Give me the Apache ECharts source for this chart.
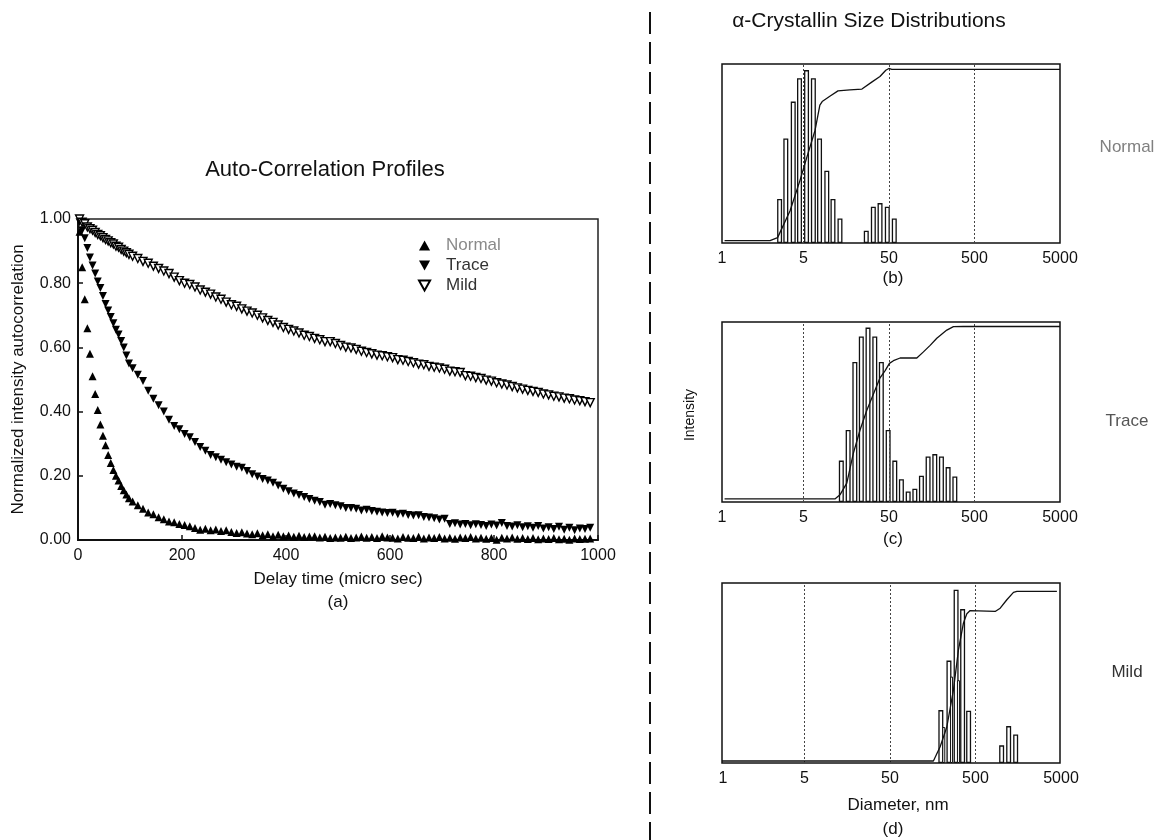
<!DOCTYPE html>
<html>
<head>
<meta charset="utf-8">
<title>Auto-Correlation Profiles / α-Crystallin Size Distributions</title>
<script src="https://cdn.jsdelivr.net/npm/echarts@6/dist/echarts.min.js"></script>
<style>
  html, body { margin: 0; padding: 0; background: #fff; }
  #chart { width: 1157px; height: 840px; }
</style>
</head>
<body>
<div id="chart"></div>
<script>
// ---- (a) auto-correlation profiles ----
const delays = [
  3, 8, 13, 18, 23, 28, 33, 38, 43, 48, 53, 58, 63, 68, 73, 78, 83, 88, 93, 98,
  105, 115, 125, 135, 145, 155, 165, 175, 185, 195,
  205, 215, 225, 235, 245, 255, 265, 275, 285, 295,
  305, 315, 325, 335, 345, 355, 365, 375, 385, 395,
  405, 415, 425, 435, 445, 455, 465, 475, 485, 495,
  505, 515, 525, 535, 545, 555, 565, 575, 585, 595,
  605, 615, 625, 635, 645, 655, 665, 675, 685, 695,
  705, 715, 725, 735, 745, 755, 765, 775, 785, 795,
  805, 815, 825, 835, 845, 855, 865, 875, 885, 895,
  905, 915, 925, 935, 945, 955, 965, 975, 985
]
const normalCorr = [
  0.96, 0.85, 0.75, 0.66, 0.58, 0.51, 0.455, 0.405, 0.36, 0.325, 0.295, 0.265, 0.24, 0.218, 0.2, 0.185, 0.168, 0.155, 0.142, 0.13,
  0.12, 0.108, 0.097, 0.086, 0.08, 0.071, 0.065, 0.058, 0.055, 0.05,
  0.047, 0.043, 0.037, 0.032, 0.035, 0.03, 0.033, 0.028, 0.03, 0.025,
  0.022, 0.024, 0.02, 0.018, 0.021, 0.015, 0.018, 0.012, 0.016, 0.012,
  0.014, 0.01, 0.013, 0.009, 0.011, 0.012, 0.008, 0.01, 0.006, 0.008,
  0.007, 0.01, 0.006, 0.008, 0.011, 0.007, 0.009, 0.006, 0.012, 0.008,
  0.007, 0.005, 0.009, 0.007, 0.006, 0.01, 0.005, 0.008, 0.006, 0.009,
  0.005, 0.007, 0.004, 0.008, 0.006, 0.009, 0.005, 0.007, 0.004, 0.006,
  0.001, 0.007, 0.005, 0.008, 0.004, 0.006, 0.003, 0.006, 0.002, 0.005,
  0.003, 0.006, 0.002, 0.004, 0.001, 0.005, 0.003, 0.004, 0.005
]
const traceCorr = [
  0.99, 0.965, 0.94, 0.91, 0.88, 0.855, 0.83, 0.805, 0.785, 0.76, 0.735, 0.715, 0.695, 0.675, 0.655, 0.64, 0.62, 0.6, 0.575, 0.55,
  0.535, 0.515, 0.495, 0.465, 0.44, 0.42, 0.4, 0.375, 0.355, 0.345,
  0.33, 0.32, 0.305, 0.29, 0.278, 0.265, 0.258, 0.25, 0.242, 0.235,
  0.228, 0.225, 0.215, 0.205, 0.198, 0.19, 0.185, 0.178, 0.17, 0.16,
  0.152, 0.145, 0.14, 0.134, 0.128, 0.122, 0.118, 0.11, 0.112, 0.108,
  0.105, 0.1, 0.1, 0.097, 0.092, 0.094, 0.09, 0.088, 0.086, 0.084,
  0.085, 0.08, 0.082, 0.078, 0.076, 0.077, 0.072, 0.07, 0.068, 0.064,
  0.066, 0.05, 0.052, 0.048, 0.05, 0.046, 0.049, 0.047, 0.044, 0.048,
  0.045, 0.053, 0.044, 0.042, 0.046, 0.04, 0.043, 0.038, 0.044, 0.036,
  0.04, 0.034, 0.041, 0.032, 0.038, 0.03, 0.036, 0.034, 0.038
]
const mildCorr = [
  1.0, 0.99, 0.985, 0.975, 0.97, 0.965, 0.958, 0.952, 0.948, 0.942, 0.936, 0.932, 0.926, 0.922, 0.915, 0.912, 0.905, 0.9, 0.895, 0.89,
  0.884, 0.877, 0.868, 0.862, 0.853, 0.846, 0.838, 0.83, 0.819, 0.808,
  0.8, 0.796, 0.788, 0.779, 0.772, 0.766, 0.757, 0.75, 0.741, 0.733,
  0.728, 0.72, 0.713, 0.707, 0.7, 0.692, 0.684, 0.678, 0.67, 0.662,
  0.656, 0.651, 0.645, 0.638, 0.634, 0.628, 0.624, 0.618, 0.618, 0.612,
  0.606, 0.601, 0.598, 0.594, 0.588, 0.584, 0.58, 0.576, 0.574, 0.571,
  0.568, 0.562, 0.56, 0.556, 0.552, 0.548, 0.546, 0.541, 0.538, 0.536,
  0.532, 0.526, 0.524, 0.522, 0.512, 0.51, 0.506, 0.503, 0.498, 0.495,
  0.49, 0.486, 0.483, 0.478, 0.474, 0.47, 0.466, 0.463, 0.46, 0.455,
  0.452, 0.448, 0.446, 0.442, 0.44, 0.436, 0.434, 0.431, 0.428
]

// ---- (b)(c)(d) size distributions, diameter in nm ----
const normalDiam = [2.64, 3.12, 3.81, 4.51, 5.45, 6.55, 7.73, 9.4, 11.1, 13.4, 27.2, 32.9, 39.4, 47.9, 57.8]
const normalInt = [0.246, 0.584, 0.79, 0.92, 0.966, 0.92, 0.584, 0.404, 0.246, 0.137, 0.069, 0.203, 0.223, 0.203, 0.137]
const normalCumDiam = [0.6, 2.04, 2.5, 3.5, 4.57, 5.5, 6.86, 7.8, 8.3, 10.2, 12.7, 17.5, 24.2, 31.8, 39.3, 46, 50, 54, 5000]
const normalCum = [0.013, 0.013, 0.03, 0.18, 0.35, 0.48, 0.63, 0.77, 0.79, 0.82, 0.85, 0.855, 0.86, 0.9, 0.93, 0.965, 0.975, 0.97, 0.97]

const traceDiam = [13.9, 16.7, 20.0, 23.8, 28.5, 34.2, 40.8, 49.0, 58.6, 70.0, 84.0, 100.5, 120, 143.6, 172, 205.6, 246, 295]
const traceInt = [0.23, 0.4, 0.778, 0.92, 0.969, 0.92, 0.778, 0.4, 0.23, 0.127, 0.059, 0.074, 0.146, 0.253, 0.266, 0.253, 0.194, 0.142]
const traceCumDiam = [0.6, 11.7, 13.4, 16.1, 19.2, 23.0, 27.6, 33.0, 39.4, 45.2, 50.7, 56.5, 67.6, 106, 126.7, 151.7, 181.5, 237.7, 284, 371.6, 5000]
const traceCum = [0.017, 0.017, 0.04, 0.105, 0.27, 0.4, 0.51, 0.6, 0.69, 0.73, 0.77, 0.785, 0.8, 0.8, 0.834, 0.87, 0.91, 0.955, 0.974, 0.975, 0.975]

const mildDiam = [197, 245, 297, 354, 416, 1012, 1222, 1476]
const mildInt = [0.294, 0.569, 0.963, 0.855, 0.29, 0.098, 0.205, 0.158]
const mildInnerDiam = [219, 270, 325]
const mildInnerInt = [0.2, 0.48, 0.46]
const mildCumDiam = [0.56, 165.6, 198.5, 237.7, 283.9, 325, 371.6, 407.4, 445.6, 873, 1000, 1196, 1429, 1566, 4600]
const mildCum = [0.011, 0.011, 0.09, 0.2, 0.405, 0.628, 0.777, 0.829, 0.847, 0.842, 0.86, 0.907, 0.948, 0.953, 0.953]

// size axis: the figure labels its left edge "1"
const sizeTicks = [0.56, 5, 50, 500, 5000]
const sizeTickLabels = ['1', '5', '50', '500', '5000']

const FONT = "'Liberation Sans', Arial, Helvetica, sans-serif"
const UP_TRI = 'path://M5,0L10,9L0,9Z'
const DOWN_TRI = 'path://M0,0L10,0L5,9Z'

const pairs = (xs, ys) => xs.map((x, i) => [x, ys[i]])

const chart = echarts.init(document.getElementById('chart'), null, { renderer: 'canvas' })

// three histogram panels share the same layout
const panels = [
  { top: 64, height: 179, diam: normalDiam, int: normalInt, cumD: normalCumDiam, cum: normalCum },
  { top: 322, height: 180, diam: traceDiam, int: traceInt, cumD: traceCumDiam, cum: traceCum },
  { top: 583, height: 180, diam: mildDiam, int: mildInt, cumD: mildCumDiam, cum: mildCum }
]

const grids = [{
  left: 78, top: 219, width: 520, height: 321,
  show: true, borderColor: '#222', borderWidth: 1.5
}]
const xAxes = [{
  type: 'value', gridIndex: 0, min: 0, max: 1000, interval: 200,
  name: 'Delay time (micro sec)', nameLocation: 'middle', nameGap: 31,
  nameTextStyle: { fontFamily: FONT, fontSize: 17, color: '#111' },
  axisLine: { lineStyle: { color: '#111', width: 2 } },
  axisTick: { inside: true, length: 5, lineStyle: { color: '#111', width: 1.5 } },
  axisLabel: { fontFamily: FONT, fontSize: 16, color: '#111', margin: 8, formatter: v => String(v) },
  splitLine: { show: false }
}]
const yAxes = [{
  type: 'value', gridIndex: 0, min: 0, max: 1, interval: 0.2,
  name: 'Normalized intensity autocorrelation', nameLocation: 'middle', nameGap: 51,
  nameTextStyle: { fontFamily: FONT, fontSize: 17, color: '#111' },
  axisLine: { lineStyle: { color: '#111', width: 2 } },
  axisTick: { inside: true, length: 5, lineStyle: { color: '#111', width: 1.5 } },
  axisLabel: { fontFamily: FONT, fontSize: 16, color: '#111', margin: 7, formatter: v => v.toFixed(2) },
  splitLine: { show: false }
}]

const scatterBase = { type: 'scatter', xAxisIndex: 0, yAxisIndex: 0, symbolSize: 8 }
const series = [
  Object.assign({}, scatterBase, {
    name: 'Normal', symbol: UP_TRI,
    itemStyle: { color: '#000', opacity: 1 },
    data: pairs(delays, normalCorr)
  }),
  Object.assign({}, scatterBase, {
    name: 'Trace', symbol: DOWN_TRI,
    itemStyle: { color: '#000', opacity: 1 },
    data: pairs(delays, traceCorr)
  }),
  Object.assign({}, scatterBase, {
    name: 'Mild', symbol: DOWN_TRI,
    itemStyle: { color: '#fff', borderColor: '#000', borderWidth: 1.4, opacity: 1 },
    data: pairs(delays, mildCorr)
  })
]

panels.forEach((p, k) => {
  const gi = k + 1
  grids.push({ left: 722, top: p.top, width: 338, height: p.height, show: true, borderColor: '#111', borderWidth: 1.5 })
  xAxes.push({
    type: 'log', logBase: 10, gridIndex: gi, min: 0.56, max: 5000,
    axisLine: { show: false }, axisTick: { show: false }, axisLabel: { show: false }, splitLine: { show: false }
  })
  yAxes.push({ type: 'value', gridIndex: gi, min: 0, max: 1, show: false, splitLine: { show: false } })
  series.push({
    type: 'bar', xAxisIndex: gi, yAxisIndex: gi, barWidth: 5, barGap: '-100%',
    itemStyle: { color: '#fff', borderColor: '#111', borderWidth: 1.3 },
    data: pairs(p.diam, p.int),
    markLine: {
      silent: true, symbol: 'none',
      lineStyle: { color: '#444', type: [2, 2], width: 1 },
      label: { position: 'start', distance: 8, formatter: '{b}', fontFamily: FONT, fontSize: 16, color: '#111' },
      data: sizeTicks.map((v, i) => ({
        xAxis: v,
        name: sizeTickLabels[i],
        lineStyle: (i === 0 || i === sizeTicks.length - 1) ? { color: 'rgba(0,0,0,0)' } : undefined
      }))
    }
  })
  if (k === 2) {
    series.push({
      type: 'bar', xAxisIndex: gi, yAxisIndex: gi, barWidth: 3, barGap: '-100%',
      itemStyle: { color: '#fff', borderColor: '#111', borderWidth: 1 },
      data: pairs(mildInnerDiam, mildInnerInt)
    })
  }
  series.push({
    type: 'line', xAxisIndex: gi, yAxisIndex: gi, showSymbol: false, symbol: 'none',
    lineStyle: { color: '#111', width: 1.3 },
    data: pairs(p.cumD, p.cum),
    z: 5
  })
})

const txt = (x, y, text, size, color, extra) => Object.assign({
  type: 'text', x: x, y: y,
  style: { text: text, font: 'normal ' + size + 'px ' + FONT, fill: color || '#111', textAlign: 'center', textVerticalAlign: 'middle' }
}, extra || {})

chart.setOption({
  backgroundColor: '#fff',
  animation: false,
  grid: grids,
  xAxis: xAxes,
  yAxis: yAxes,
  legend: {
    orient: 'vertical', left: 413, top: 232,
    itemWidth: 33, itemHeight: 10, itemGap: 3,
    textStyle: { fontFamily: FONT, fontSize: 17 },
    data: [
      { name: 'Normal', textStyle: { color: '#8a8a8a' } },
      { name: 'Trace', textStyle: { color: '#333' } },
      { name: 'Mild', textStyle: { color: '#333' } }
    ]
  },
  series: series,
  graphic: [
    txt(325, 170, 'Auto-Correlation Profiles', 22, '#111'),
    txt(338, 602, '(a)', 17, '#111'),
    txt(869, 21, 'α-Crystallin Size Distributions', 21, '#111'),
    txt(893, 278, '(b)', 17, '#111'),
    txt(893, 539, '(c)', 17, '#111'),
    txt(898, 805, 'Diameter, nm', 17, '#111'),
    txt(893, 829, '(d)', 17, '#111'),
    txt(690, 415, 'Intensity', 14, '#111', { rotation: Math.PI / 2 }),
    txt(1127, 147, 'Normal', 17, '#808080'),
    txt(1127, 421, 'Trace', 17, '#555'),
    txt(1127, 672, 'Mild', 17, '#333'),
    {
      type: 'line', silent: true,
      shape: { x1: 650, y1: 12, x2: 650, y2: 840 },
      style: { stroke: '#111', lineWidth: 2, lineDash: [22, 8] }
    }
  ]
})
</script>
</body>
</html>
